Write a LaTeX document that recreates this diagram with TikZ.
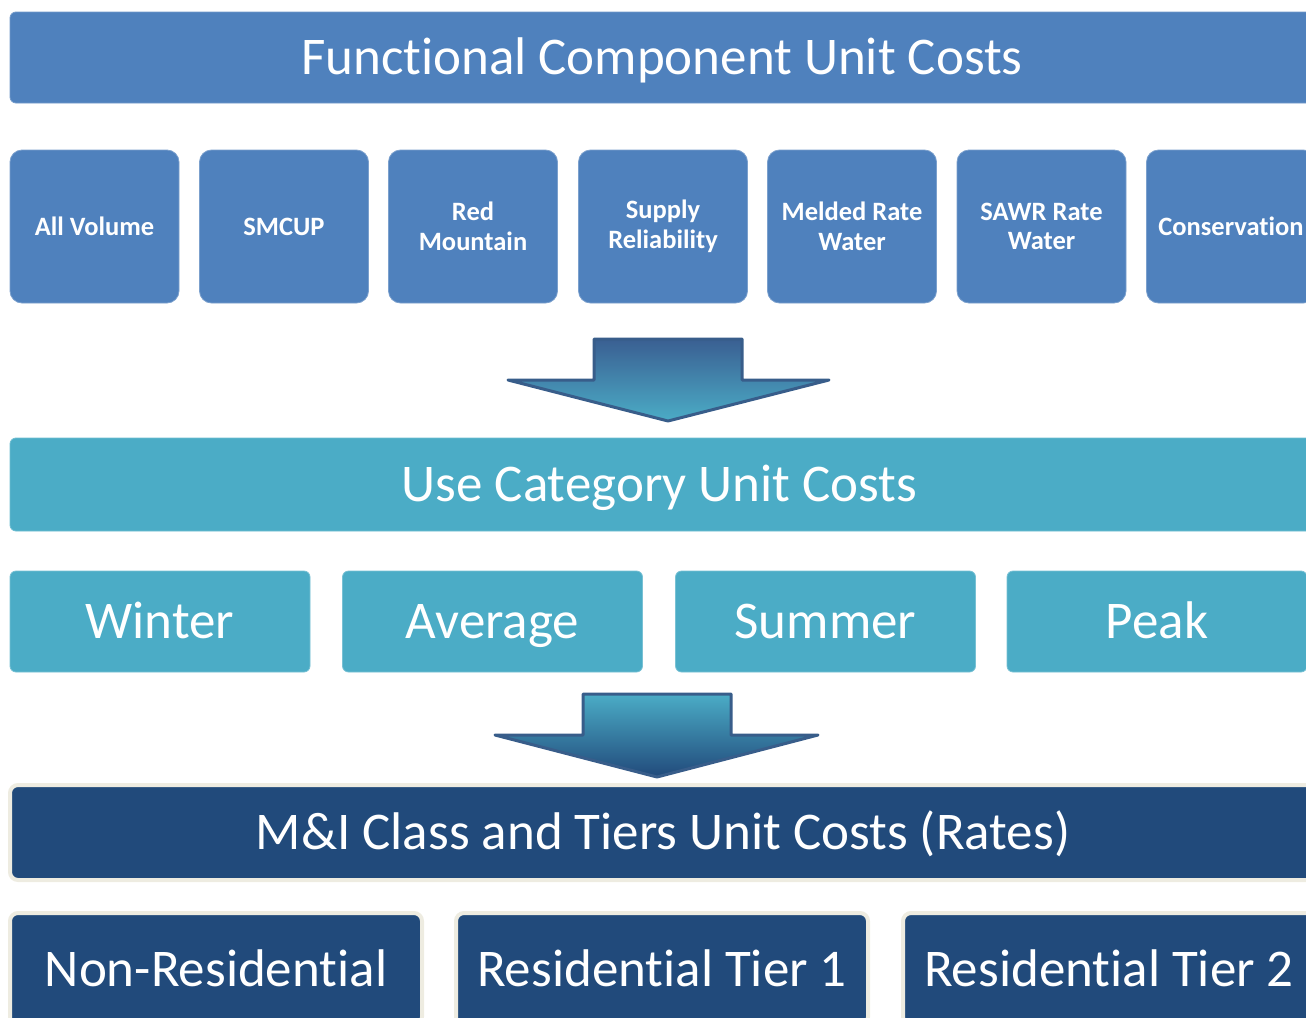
\documentclass[tikz,border=0pt]{standalone}
\usepackage{fontspec}
\setmainfont{Carlito}[Ligatures={NoCommon}]
\definecolor{medblue}{HTML}{4F81BD}
\definecolor{teal}{HTML}{4BACC6}
\definecolor{navy}{HTML}{214A7B}
\definecolor{beige}{HTML}{EEECE1}
\definecolor{arrowline}{HTML}{385D8A}
\definecolor{arrowtop}{HTML}{3A5F92}
\begin{document}
\begin{tikzpicture}[x=1pt,y=-1pt,
  bigfont/.style={font=\fontsize{53}{64}\selectfont, text height=34pt, text depth=0pt},
  bar/.style={rectangle, inner sep=0pt, minimum width=1306pt, text=white, bigfont},
  fbar/.style={bar, fill=medblue, draw=medblue!80!white, line width=0.8pt, rounded corners=6pt, minimum height=91pt},
  ubar/.style={bar, fill=teal, draw=teal!80!white, line width=0.8pt, rounded corners=6pt, minimum height=93pt},
  mbar/.style={bar, fill=navy, draw=beige, line width=4pt, rounded corners=8pt, minimum height=95pt},
  fbox/.style={rectangle, inner sep=0pt, minimum width=169pt, minimum height=153pt,
    fill=medblue, draw=medblue!75!white, line width=0.8pt, rounded corners=12pt, text=white,
    align=center, font=\bfseries\fontsize{26.5}{29.5}\selectfont},
  sbox/.style={rectangle, inner sep=0pt, minimum width=300pt, minimum height=101pt,
    fill=teal, draw=teal!75!white, line width=0.8pt, rounded corners=6pt, text=white, bigfont},
  tbox/.style={rectangle, inner sep=0pt, minimum width=412pt, minimum height=112pt,
    fill=navy, draw=beige, line width=4pt, rounded corners=8pt, text=white, bigfont},
  bigarrow/.style={draw=arrowline, line width=3pt, line join=round}
]
\useasboundingbox (0,0) rectangle (1306,1017);

% top bar
\node[fbar] (func) at (663,57.5) {\hspace*{-2pt}Functional Component Unit Costs};

% component boxes
\node[fbox] (allvol) at (94.5,226.5) {All Volume};
\node[fbox] (smcup)  at (284,226.5) {SMCUP};
\node[fbox] (redm)   at (473,226.5) {Red\\Mountain};
\node[fbox] (suprel) at (663,226.5) {Supply\\Reliability};
\node[fbox] (melded) at (852,226.5) {Melded Rate\\Water};
\node[fbox] (sawr)   at (1041.5,226.5) {SAWR Rate\\Water};
\node[fbox] (cons)   at (1231,226.5) {Conservation};

% arrow 1
\coordinate (a1) at (668,421);
\path[bigarrow, top color=arrowtop, bottom color=teal]
  (594,339) -- (742,339) -- (742,380) -- (829,380) -- (a1) -- (508,380) -- (594,380) -- cycle;

% use category bar
\node[ubar] (usecat) at (663,484.5) {\hspace*{-7pt}Use Category Unit Costs};

% season boxes
\node[sbox] (winter)  at (160,621.5) {Winter};
\node[sbox] (average) at (492.5,621.5) {Average};
\node[sbox] (summer)  at (825.5,621.5) {Summer};
\node[sbox] (peak)    at (1157,621.5) {Peak};

% arrow 2
\coordinate (a2) at (657,777);
\path[bigarrow, top color=teal, bottom color=navy]
  (583,694) -- (731,694) -- (731,735) -- (818,735) -- (a2) -- (495,735) -- (583,735) -- cycle;

% M&I bar
\node[mbar] (mi) at (663,832.5) {M\&I Class and Tiers Unit Costs (Rates)};

% tier boxes
\node[tbox] (nonres) at (216,969) {Non-Residential};
\node[tbox] (res1)   at (662,969) {Residential Tier 1};
\node[tbox] (res2)   at (1109,969) {Residential Tier 2};
\end{tikzpicture}
\end{document}
